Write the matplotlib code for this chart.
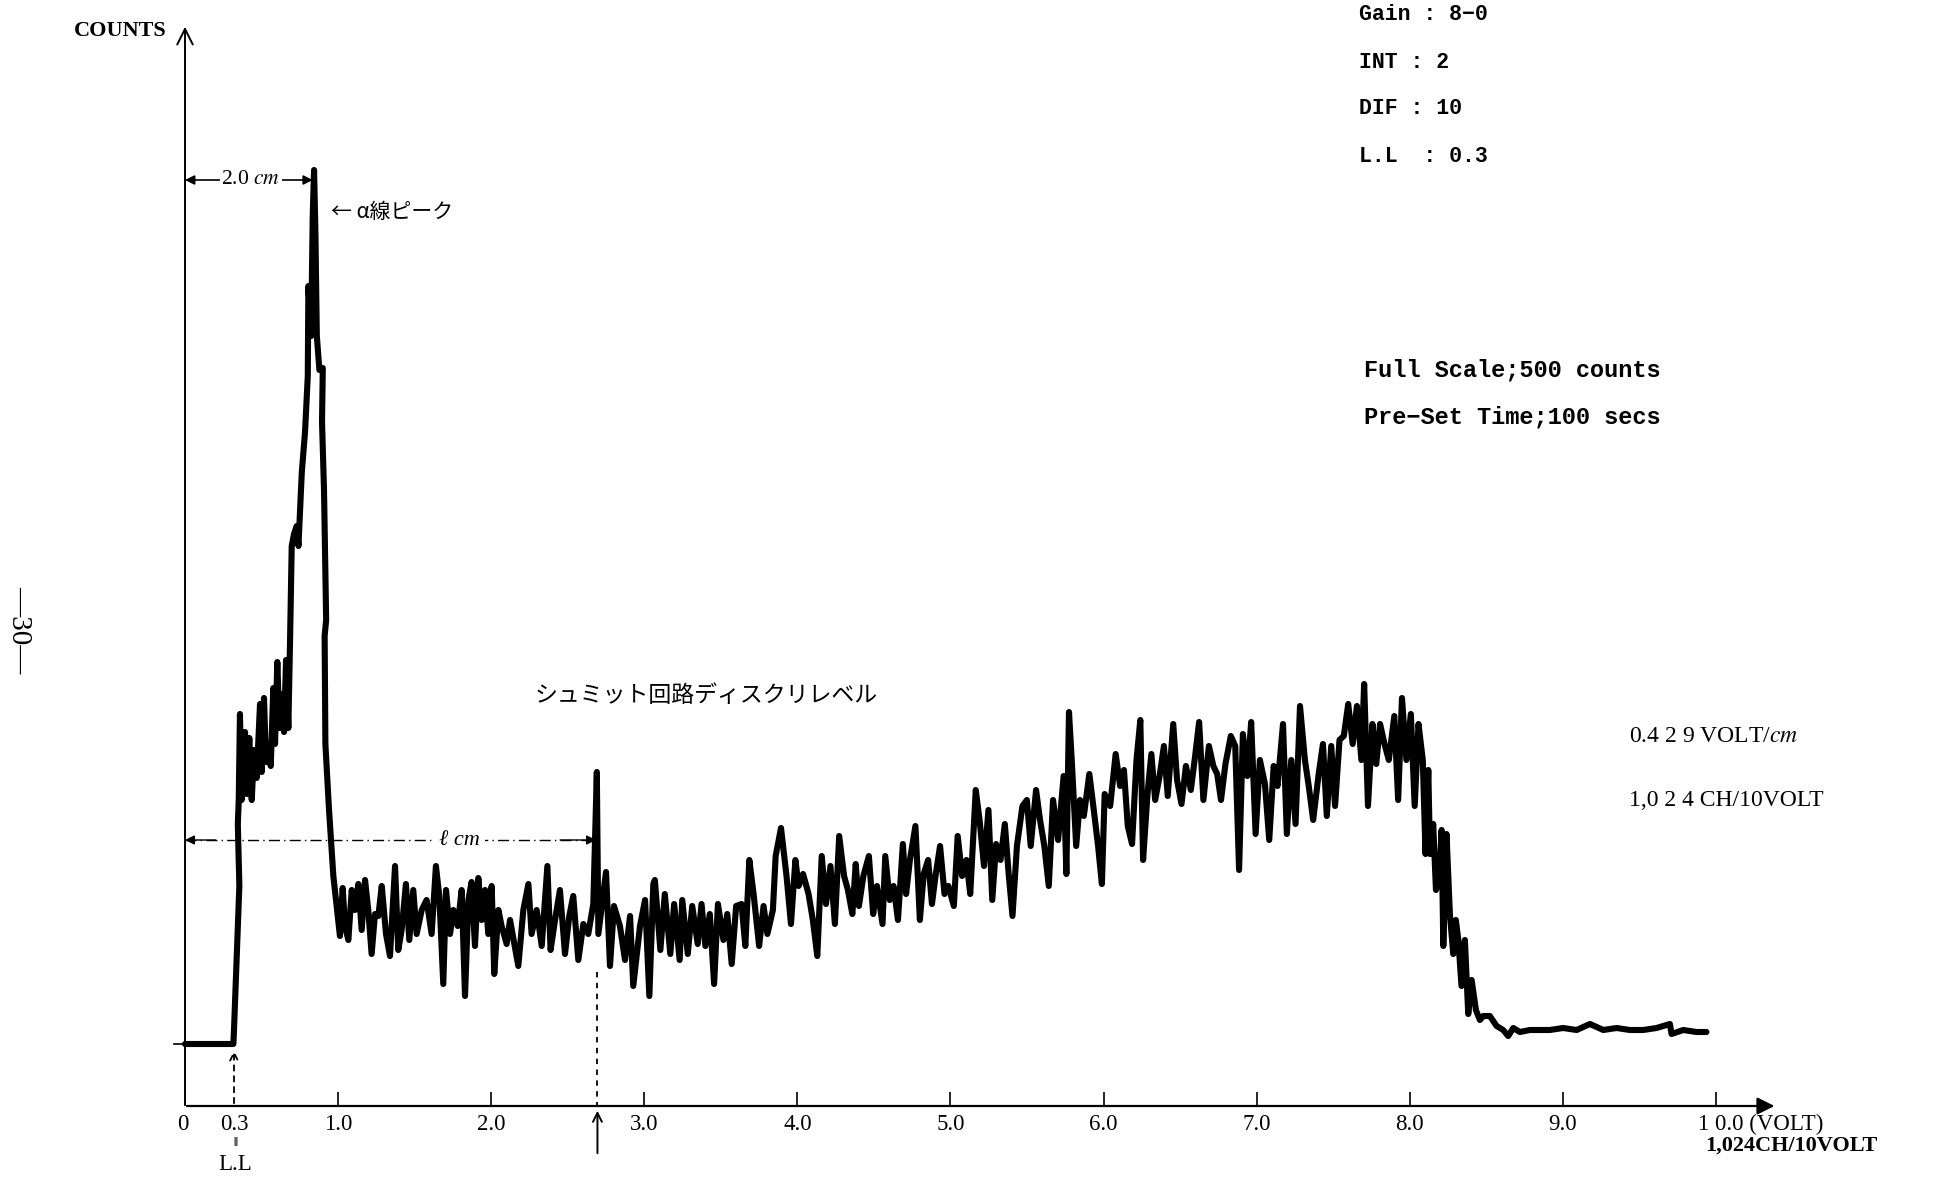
import matplotlib.pyplot as plt

plt.rcParams['font.family'] = ['Liberation Serif', 'DejaVu Serif']
plt.rcParams['mathtext.fontset'] = 'stix'

# pulse height trace: x in VOLT, y in counts above the L.L baseline
volt = [0.0, 0.316, 0.320, 0.355, 0.345, 0.351, 0.359, 0.370, 0.392, 0.403, 0.420, 0.436, 0.451, 0.468,
        0.490, 0.501, 0.516, 0.529, 0.545, 0.560, 0.577, 0.588, 0.603, 0.617, 0.632, 0.647, 0.660, 0.675,
        0.686, 0.697, 0.712, 0.730, 0.741, 0.763, 0.784, 0.802, 0.806, 0.824, 0.834, 0.843, 0.852, 0.861,
        0.878, 0.900, 0.895, 0.908, 0.922, 0.912, 0.917, 0.940, 0.955, 0.969, 1.012,
        1.030, 1.045, 1.067, 1.089, 1.110, 1.132, 1.154, 1.176, 1.197, 1.219, 1.241, 1.263, 1.285, 1.313,
        1.339, 1.372, 1.393, 1.415, 1.443, 1.465, 1.491, 1.513, 1.546, 1.578, 1.611, 1.639, 1.661, 1.687,
        1.705, 1.731, 1.753, 1.781, 1.807, 1.829, 1.851, 1.872, 1.894, 1.916, 1.938, 1.960, 1.981, 2.003,
        2.020, 2.047, 2.068, 2.101, 2.123, 2.177, 2.210, 2.243, 2.264, 2.297, 2.330, 2.367, 2.388, 2.417,
        2.449, 2.482, 2.510, 2.536, 2.569, 2.602, 2.634, 2.667, 2.690, 2.700, 2.750, 2.776, 2.802, 2.841,
        2.874, 2.907, 2.928, 2.972, 3.005, 3.033, 3.059,
        3.069, 3.105, 3.134, 3.170, 3.195, 3.231, 3.248, 3.284, 3.313, 3.349, 3.374, 3.399, 3.428, 3.456,
        3.481, 3.517, 3.542, 3.571, 3.600, 3.635, 3.660, 3.686, 3.714, 3.750, 3.779, 3.804, 3.840, 3.858,
        3.893, 3.929, 3.958, 3.987, 4.008, 4.037, 4.073, 4.101, 4.130, 4.159, 4.187, 4.216, 4.245, 4.273,
        4.305, 4.330, 4.359, 4.381, 4.402, 4.431, 4.467, 4.495, 4.520, 4.556, 4.574, 4.603, 4.628, 4.657,
        4.689, 4.710, 4.735, 4.771, 4.800, 4.825, 4.854, 4.879, 4.904, 4.932, 4.961, 4.986, 5.022, 5.047,
        5.076, 5.104, 5.129, 5.165, 5.190, 5.219, 5.248, 5.273, 5.298, 5.327, 5.355, 5.380, 5.405, 5.434,
        5.470, 5.499, 5.524, 5.559, 5.585, 5.613, 5.642, 5.670, 5.703, 5.739, 5.757, 5.774, 5.792, 5.821,
        5.846, 5.871, 5.907, 5.936, 5.964, 5.989, 6.007, 6.043, 6.079, 6.108, 6.133, 6.158, 6.186, 6.215,
        6.240, 6.258, 6.287, 6.312, 6.337, 6.366, 6.394, 6.419, 6.455, 6.480, 6.509, 6.538, 6.570, 6.598,
        6.624, 6.652, 6.688, 6.717, 6.742, 6.767, 6.796, 6.831, 6.860, 6.885, 6.910, 6.939, 6.964, 6.993,
        7.021, 7.054, 7.082, 7.111, 7.136, 7.172, 7.197, 7.226, 7.254, 7.283, 7.315, 7.340, 7.369, 7.405,
        7.433, 7.458, 7.487, 7.512, 7.541, 7.569, 7.598, 7.627, 7.655, 7.684, 7.702, 7.727, 7.756, 7.781,
        7.806, 7.835, 7.863, 7.899, 7.924, 7.949, 7.978, 8.007, 8.032, 8.057, 8.085, 8.103,
        8.121, 8.132, 8.153, 8.171, 8.192, 8.208, 8.219, 8.240, 8.262, 8.284, 8.301, 8.317, 8.338, 8.360,
        8.382, 8.404, 8.432, 8.458, 8.480, 8.523, 8.567, 8.610, 8.643, 8.676, 8.719, 8.785, 8.850, 8.915,
        9.002, 9.090, 9.177, 9.264, 9.351, 9.438, 9.525, 9.612, 9.699, 9.710, 9.786, 9.873, 9.938]
counts = [0, 0, 7, 79, 110, 122, 165, 122, 156, 125, 153, 122, 147, 133,
          170, 136, 173, 141, 150, 139, 178, 150, 191, 158, 175, 156, 192, 158,
          201, 249, 255, 259, 249, 286, 306, 334, 379, 354, 413, 437, 405, 354,
          337, 338, 311, 277, 212, 204, 150, 118, 100, 84, 54,
          78, 59, 52, 77, 67, 80, 57, 82, 67, 45, 65, 64, 79, 55,
          44, 89, 47, 57, 80, 52, 77, 55, 67, 72, 55, 89, 74, 30,
          77, 55, 67, 59, 77, 24, 72, 81, 49, 83, 62, 77, 55, 79,
          35, 67, 59, 50, 62, 39, 67, 80, 55, 67, 49, 89, 47, 62,
          77, 45, 64, 74, 42, 60, 55, 70, 136, 55, 86, 39, 69, 59,
          42, 64, 29, 59, 72, 24, 80,
          82, 47, 75, 45, 70, 42, 72, 45, 69, 50, 70, 49, 65, 30,
          70, 52, 65, 40, 69, 70, 49, 92, 75, 49, 69, 55, 67, 94,
          108, 84, 60, 92, 79, 85, 75, 62, 44, 94, 70, 89, 60, 104,
          84, 77, 65, 90, 69, 84, 94, 65, 79, 60, 94, 72, 79, 62,
          100, 75, 92, 109, 62, 85, 92, 70, 85, 99, 75, 79, 69, 104,
          84, 92, 75, 127, 112, 89, 117, 72, 100, 92, 110, 85, 64, 99,
          119, 122, 99, 127, 112, 99, 79, 122, 102, 134, 85, 166, 142, 99,
          122, 114, 135, 117, 99, 80, 125, 119, 145, 129, 137, 109, 100, 142,
          162, 92, 125, 145, 122, 134, 149, 124, 160, 132, 120, 139, 127, 144,
          161, 122, 149, 139, 135, 122, 140, 154, 149, 87, 155, 134, 161, 105,
          142, 130, 102, 139, 129, 160, 105, 142, 110, 169, 142, 129, 112, 135,
          150, 114, 149, 119, 152, 154, 170, 150, 169, 142, 180, 119, 160, 140,
          160, 150, 142, 164, 122, 173, 142, 165, 119, 160, 142, 95,
          137, 95, 110, 77, 82, 107, 49, 105, 65, 45, 62, 52, 29, 52,
          15, 32, 17, 12, 14, 14, 9, 7, 4, 8, 6, 7, 7, 7,
          8, 7, 10, 7, 8, 7, 7, 8, 10, 5, 7, 6, 6]

tick_volts = [1.0, 2.0, 3.0, 4.0, 5.0, 6.0, 7.0, 8.0, 9.0]
tick_labels = ['1.0', '2.0', '3.0', '4.0', '5.0', '6.0', '7.0', '8.0', '9.0']
settings = ['Gain : 8−0', 'INT : 2', 'DIF : 10', 'L.L  : 0.3']

fig = plt.figure(figsize=(19.6, 11.77), dpi=100)
ax = fig.add_axes([0, 0, 1, 1])
ax.set_xlim(-1.2084, 11.594)
ax.set_ylim(-66.5, 522)
ax.axis('off')

k = 'black'
y_axis = -31

# axes drawn by hand like on the recorder paper
ax.annotate('', xy=(0, 510), xytext=(0, y_axis - 1),
            arrowprops=dict(arrowstyle='->', lw=1.4, color=k, mutation_scale=28))
ax.annotate('', xy=(10.40, y_axis), xytext=(-0.005, y_axis),
            arrowprops=dict(arrowstyle='-|>', lw=1.6, color=k, mutation_scale=26))
ax.plot([-0.07, 0], [0, 0], color=k, lw=1.2)
ax.vlines(tick_volts + [10.0], y_axis, y_axis + 7, color=k, lw=1.2)

ax.plot(volt, counts, color=k, lw=4.4, solid_joinstyle='round', solid_capstyle='round')

# tick labels
lab = dict(fontsize=16.5, ha='center', va='center', color=k)
ax.text(-0.015, -40, '0', **lab)
ax.text(0.32, -40, '0.3', **lab)
for v, t in zip(tick_volts, tick_labels):
    ax.text(v, -40, t, **lab)
ax.text(9.885, -40, '1 0.0 (VOLT)', fontsize=16.5, ha='left', va='center', color=k)
ax.text(9.93, -51, '1,024CH/10VOLT', fontsize=16, ha='left', va='center', color=k, fontweight='bold')
ax.text(0.33, -49.5, '‖', fontsize=9, ha='center', va='center', color=k, fontweight='bold')
ax.text(0.33, -60, 'L.L', fontsize=16.5, ha='center', va='center', color=k)

# L.L marker and discriminator level marker
ax.annotate('', xy=(0.32, -2), xytext=(0.32, y_axis),
            arrowprops=dict(arrowstyle='->', lw=1.3, ls=(0, (3, 3)), color=k, mutation_scale=14))
ax.plot([2.694, 2.694], [36, y_axis], color=k, lw=1.3, ls=(0, (3, 3)))
ax.annotate('', xy=(2.694, y_axis - 1), xytext=(2.694, -56),
            arrowprops=dict(arrowstyle='->', lw=1.4, color=k, mutation_scale=16))

# 2.0 cm dimension
ax.annotate('', xy=(0.0, 432), xytext=(0.835, 432),
            arrowprops=dict(arrowstyle='<|-|>', lw=1.2, color=k, mutation_scale=14,
                            shrinkA=0, shrinkB=0))
ax.text(0.43, 432, r'2.0 $cm$', fontsize=15.5, ha='center', va='center', color=k,
        bbox=dict(facecolor='white', edgecolor='none', pad=1))

# l cm dimension
ax.plot([0.0, 2.69], [102, 102], color=k, lw=1.0, ls=(0, (8, 3, 1, 3)))
ax.annotate('', xy=(0.0, 102), xytext=(0.2, 102),
            arrowprops=dict(arrowstyle='-|>', lw=1.0, color=k, mutation_scale=14, shrinkA=0, shrinkB=0))
ax.annotate('', xy=(2.685, 102), xytext=(2.45, 102),
            arrowprops=dict(arrowstyle='-|>', lw=1.0, color=k, mutation_scale=14, shrinkA=0, shrinkB=0))
ax.text(1.79, 102, 'ℓ cm', fontsize=16, style='italic', ha='center', va='center', color=k,
        bbox=dict(facecolor='white', edgecolor='none', pad=4))

jp = ['Noto Sans CJK JP', 'DejaVu Sans']
ax.text(0.955, 416, '← α線ピーク', family=jp, fontsize=15, ha='left', va='center', color=k)
ax.text(2.286, 174, 'シュミット回路ディスクリレベル', family=jp, fontsize=16.5, ha='left',
        va='center', color=k)

ax.text(-0.12, 506.5, 'COUNTS', fontsize=16, fontweight='bold', ha='right', va='center', color=k)

ax.text(-1.084, 207, '—30—', fontsize=21, rotation=-90, ha='center', va='center', color=k)

mono = ['Liberation Mono', 'DejaVu Sans Mono']
for i, s in enumerate(settings):
    ax.text(7.67, 514.5 - 23.5 * i, s, family=mono, fontweight='bold', fontsize=15.5,
            ha='left', va='center', color=k)
ax.text(7.70, 337, 'Full Scale;500 counts', family=mono, fontweight='bold', fontsize=17,
        ha='left', va='center', color=k)
ax.text(7.70, 313.5, 'Pre−Set Time;100 secs', family=mono, fontweight='bold', fontsize=17,
        ha='left', va='center', color=k)

ax.text(9.43, 153.5, r'0.4 2 9 VOLT/$cm$', fontsize=17, ha='left', va='center', color=k)
ax.text(9.43, 122, '1,0 2 4 CH/10VOLT', fontsize=17, ha='left', va='center', color=k)

fig.savefig('out.png', dpi=100)
